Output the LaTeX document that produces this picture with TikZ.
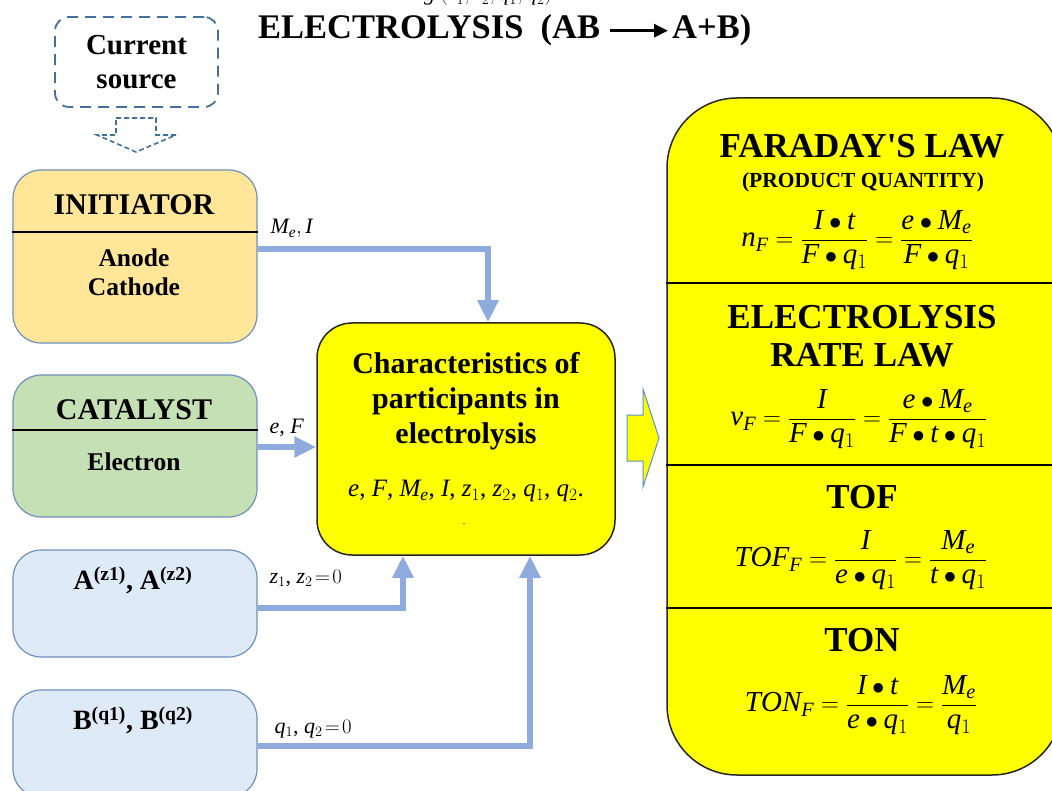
\documentclass[tikz,border=0pt]{standalone}
\usepackage{fontspec}
\setmainfont{Liberation Serif}
\usetikzlibrary{arrows.meta}
\DeclareSymbolFont{timesit}{TU}{\rmdefault}{m}{it}
\DeclareSymbolFont{timesrm}{TU}{\rmdefault}{m}{n}
\DeclareMathSymbol{e}{\mathalpha}{timesit}{`e}
\DeclareMathSymbol{F}{\mathalpha}{timesit}{`F}
\DeclareMathSymbol{M}{\mathalpha}{timesit}{`M}
\DeclareMathSymbol{I}{\mathalpha}{timesit}{`I}
\DeclareMathSymbol{t}{\mathalpha}{timesit}{`t}
\DeclareMathSymbol{q}{\mathalpha}{timesit}{`q}
\DeclareMathSymbol{n}{\mathalpha}{timesit}{`n}
\DeclareMathSymbol{v}{\mathalpha}{timesit}{`v}
\DeclareMathSymbol{z}{\mathalpha}{timesit}{`z}
\DeclareMathSymbol{T}{\mathalpha}{timesit}{`T}
\DeclareMathSymbol{O}{\mathalpha}{timesit}{`O}
\DeclareMathSymbol{N}{\mathalpha}{timesit}{`N}
\DeclareMathSymbol{g}{\mathalpha}{timesit}{`g}
\DeclareMathSymbol{0}{\mathord}{timesrm}{`0}
\DeclareMathSymbol{1}{\mathord}{timesrm}{`1}
\DeclareMathSymbol{2}{\mathord}{timesrm}{`2}
\definecolor{csblue}{HTML}{41719C}
\definecolor{initfill}{HTML}{FFE699}
\definecolor{catfill}{HTML}{C5E0B4}
\definecolor{abfill}{HTML}{DEEBF7}
\definecolor{boxedge}{HTML}{6F90BC}
\definecolor{connc}{HTML}{8FAADC}
\definecolor{yel}{HTML}{FFFF00}
\definecolor{darkedge}{HTML}{262626}
\definecolor{arrowedge}{HTML}{5B8FC9}
\tikzset{
  leftbox/.style={draw=boxedge, line width=1.2pt, rounded corners=28pt, minimum width=244pt, inner sep=0pt},
  boxtitle/.style={font=\fontsize{30}{34}\selectfont\bfseries},
  boxbody/.style={font=\fontsize{25.5}{29}\selectfont\bfseries, align=center},
  divider/.style={line width=2.2pt, black},
  conn/.style={draw=connc, line width=6.5pt, -{Triangle[length=22pt,width=20pt]}},
  lbl/.style={anchor=base west, font=\fontsize{22}{25}\selectfont},
  rtitle/.style={font=\fontsize{35}{38}\selectfont\bfseries, align=center},
  formula/.style={font=\fontsize{29}{34}\selectfont},
  rdivider/.style={line width=2.5pt, black},
}
\begin{document}
\begin{tikzpicture}[x=1pt,y=-1pt]
\useasboundingbox (0,0) rectangle (1052,791);
\fill[white] (0,0) rectangle (1052,791);

% cut-off text at the top
\node[anchor=base west, font=\fontsize{22}{26}\selectfont, inner sep=0pt] (topcut) at (424,1) {$g\ (z_1, z_2, q_1, q_2)$};

% title
\node[anchor=base west, font=\fontsize{34.5}{38}\selectfont\bfseries, inner sep=2pt] (t1) at (256,39) {ELECTROLYSIS\ \ (AB};
\node[anchor=base west, font=\fontsize{34.5}{38}\selectfont\bfseries, inner sep=2pt] (t2) at (670,39) {A+B)};
\draw[-{Triangle[length=14pt,width=13pt]}, line width=3pt] ([xshift=8pt]t1.east) -- ([xshift=-2pt]t2.west);

% current source
\node[draw=csblue, dashed, dash pattern=on 11pt off 7pt, line width=1.8pt, rounded corners=14pt,
      minimum width=163pt, minimum height=90pt, align=center,
      font=\fontsize{29}{34}\selectfont\bfseries] (cs) at (136.5,62) {Current\\source};
\draw[csblue, line width=1.6pt, dash pattern=on 5pt off 3pt, fill=white]
  (116,118) -- (156,118) -- (156,135) -- (176,135) -- (136,152) -- (97,135) -- (116,135) -- cycle;

% initiator
\node[leftbox, fill=initfill, minimum height=173pt] (init) at (135,256.5) {};
\node[boxtitle] (initt) at (134,205) {INITIATOR};
\draw[divider] (init.west |- 0,232) -- (init.east |- 0,232);
\node[boxbody] (initb) at (134,272.5) {Anode\\Cathode};

% catalyst
\node[leftbox, fill=catfill, minimum height=142pt] (cat) at (135,446) {};
\node[boxtitle] (catt) at (134,410) {CATALYST};
\draw[divider] (cat.west |- 0,430) -- (cat.east |- 0,430);
\node[boxbody] (catb) at (134,462) {Electron};

% A and B
\node[leftbox, fill=abfill, minimum height=107pt] (abox) at (135,603.5) {};
\node[boxbody, font=\fontsize{28}{30}\selectfont\bfseries] (atext) at (133,580) {A\textsuperscript{(z1)}, A\textsuperscript{(z2)}};
\node[leftbox, fill=abfill, minimum height=107pt] (bbox) at (135,743.5) {};
\node[boxbody, font=\fontsize{28}{30}\selectfont\bfseries] (btext) at (133,720) {B\textsuperscript{(q1)}, B\textsuperscript{(q2)}};

% middle box
\node[draw=darkedge, line width=1.5pt, fill=yel, rounded corners=35pt, minimum width=298pt, minimum height=232pt, inner sep=0pt] (mid) at (466,439) {};
\node[font=\fontsize{30}{35}\selectfont\bfseries, align=center] (midt) at (466,401) {Characteristics of\\participants in\\electrolysis};
\node[font=\fontsize{25}{28}\selectfont] (midv) at (466,491) {$e$, $F$, $M_e$, $I$, $z_1$, $z_2$, $q_1$, $q_2$.};
\node[font=\fontsize{10}{12}\selectfont, inner sep=0pt] (middot) at (464,524) {.};

% connectors
\draw[conn] (init.east |- 0,249) -| (mid.north -| 488,0);
\draw[conn] (cat.east |- 0,447) -- (mid.west |- 0,447);
\draw[conn] (abox.east |- 0,608) -| (mid.south -| 403,0);
\draw[conn] (bbox.east |- 0,746) -| (mid.south -| 530,0);

% connector labels
\node[lbl] (l1) at (267,234) {$M_e, I$};
\node[lbl] (l2) at (266,433) {$e$, $F$};
\node[lbl] (l3) at (266,583) {$z_1$, $z_2\!=\!0$};
\node[lbl] (l4) at (271,733) {$q_1$, $q_2\!=\!0$};

% right box
\node[draw=darkedge, line width=1.5pt, fill=yel, rounded corners=70pt, minimum width=395pt, minimum height=677pt, inner sep=0pt] (rbox) at (864.5,436.5) {};
\draw[rdivider] (rbox.west |- 0,283) -- (rbox.east |- 0,283);
\draw[rdivider] (rbox.west |- 0,465) -- (rbox.east |- 0,465);
\draw[rdivider] (rbox.west |- 0,608) -- (rbox.east |- 0,608);

% block arrow between middle and right
\draw[arrowedge, line width=1pt, fill=yel]
  (627,415) -- (643,415) -- (643,389) -- (659,438) -- (643,487) -- (643,461) -- (627,461) -- cycle;

% right box texts
\node[rtitle] (fl) at (862,146) {FARADAY\textquotesingle S LAW};
\node[font=\fontsize{21.5}{24}\selectfont\bfseries] (pq) at (863,182) {(PRODUCT QUANTITY)};
\node[formula] (f1) at (857,240) {$\displaystyle n_F=\frac{I\bullet t}{F\bullet q_1}=\frac{e\bullet M_e}{F\bullet q_1}$};

\node[rtitle] (erl) at (862,336) {ELECTROLYSIS\\RATE LAW};
\node[formula] (f2) at (859,419) {$\displaystyle v_F=\frac{I}{F\bullet q_1}=\frac{e\bullet M_e}{F\bullet t\bullet q_1}$};

\node[rtitle] (tof) at (862,497) {TOF};
\node[formula] (f3) at (861,560) {$\displaystyle TOF_F=\frac{I}{e\bullet q_1}=\frac{M_e}{t\bullet q_1}$};

\node[rtitle] (ton) at (862,640) {TON};
\node[formula] (f4) at (861,705) {$\displaystyle TON_F=\frac{I\bullet t}{e\bullet q_1}=\frac{M_e}{q_1}$};
\end{tikzpicture}
\end{document}
